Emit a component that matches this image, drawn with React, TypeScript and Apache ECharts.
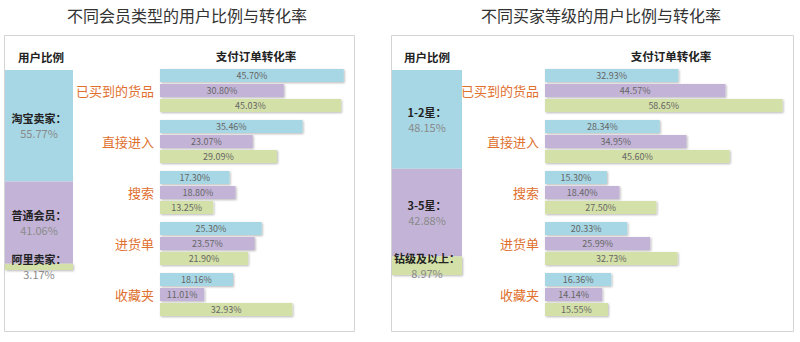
import React, { useEffect, useRef } from "react";
import * as echarts from "echarts";

const categories = ["已买到的货品", "直接进入", "搜索", "进货单", "收藏夹"];

const leftTitle = "不同会员类型的用户比例与转化率";
const leftGroups = ["淘宝卖家", "普通会员", "阿里卖家"];
const leftShares = [55.77, 41.06, 3.17];
const leftRateA = [45.7, 35.46, 17.3, 25.3, 18.16];
const leftRateB = [30.8, 23.07, 18.8, 23.57, 11.01];
const leftRateC = [45.03, 29.09, 13.25, 21.9, 32.93];

const rightTitle = "不同买家等级的用户比例与转化率";
const rightGroups = ["1-2星", "3-5星", "钻级及以上"];
const rightShares = [48.15, 42.88, 8.97];
const rightRateA = [32.93, 28.34, 15.3, 20.33, 16.36];
const rightRateB = [44.57, 34.95, 18.4, 25.99, 14.14];
const rightRateC = [58.65, 45.6, 27.5, 32.73, 15.55];

const shareHeader = "用户比例";
const rateHeader = "支付订单转化率";

const COLORS = ["#a7d7e4", "#c3b4d7", "#d3e0a7"];
const FONT = "'Noto Sans CJK SC', 'Noto Sans', sans-serif";

function buildOption() {
  const fmt = (p: any) => Number(p.value).toFixed(2) + "%";
  const barShadow = {
    shadowColor: "rgba(0,0,0,0.28)",
    shadowBlur: 2,
    shadowOffsetX: 1,
    shadowOffsetY: 1,
  };

  const grids = [
    { left: 5, top: 70, width: 68, height: 200 },
    { left: 160, top: 65, width: 201, height: 255 },
    { left: 392, top: 70, width: 70, height: 205 },
    { left: 545, top: 65, width: 243, height: 255 },
  ];

  const xAxis: any[] = [
    { gridIndex: 0, type: "category", data: ["share"], show: false },
    { gridIndex: 1, type: "value", min: 0, max: 50, show: false },
    { gridIndex: 2, type: "category", data: ["share"], show: false },
    { gridIndex: 3, type: "value", min: 0, max: 60, show: false },
  ];

  const catAxis = (gi: number, pad: number[]) => ({
    gridIndex: gi,
    type: "category",
    data: categories,
    inverse: true,
    axisLine: { show: false },
    axisTick: { show: false },
    splitLine: { show: false },
    axisLabel: {
      color: "#e0702e",
      fontSize: 13,
      fontFamily: FONT,
      margin: 6,
      padding: pad,
    },
  });

  const yAxis: any[] = [
    { gridIndex: 0, type: "value", min: 0, max: 100, inverse: true, show: false },
    catAxis(1, [0, 0, 18, 0]),
    { gridIndex: 2, type: "value", min: 0, max: 100, inverse: true, show: false },
    catAxis(3, [0, 0, 0, 0]),
  ];

  const series: any[] = [];

  const shareSeries = (names: string[], shares: number[], gi: number, stack: string) => {
    names.forEach((name, i) => {
      series.push({
        type: "bar",
        name: name,
        xAxisIndex: gi,
        yAxisIndex: gi,
        stack: stack,
        barWidth: "100%",
        data: [shares[i]],
        itemStyle: { color: COLORS[i], ...(i === names.length - 1 ? barShadow : {}) },
        label: {
          show: true,
          position: "inside",
          formatter: () => `{n|${name}：}\n{v|${shares[i].toFixed(2)}%}`,
          rich: {
            n: { fontSize: 11, fontWeight: "bold", color: "#222", fontFamily: FONT, lineHeight: 15 },
            v: { fontSize: 11, color: "#8a8a8a", fontFamily: FONT, lineHeight: 15 },
          },
        },
      });
    });
  };

  const rateSeries = (rates: number[][], gi: number) => {
    rates.forEach((r, i) => {
      series.push({
        type: "bar",
        xAxisIndex: gi,
        yAxisIndex: gi,
        barWidth: 13,
        barGap: "15%",
        data: r,
        itemStyle: { color: COLORS[i], ...barShadow },
        label: {
          show: true,
          position: "inside",
          formatter: fmt,
          fontSize: 9,
          color: "#666",
          fontFamily: FONT,
        },
      });
    });
  };

  shareSeries(leftGroups, leftShares, 0, "L");
  rateSeries([leftRateA, leftRateB, leftRateC], 1);
  shareSeries(rightGroups, rightShares, 2, "R");
  rateSeries([rightRateA, rightRateB, rightRateC], 3);

  const titleStyle = { fontSize: 16, fontWeight: "normal", color: "#333", fontFamily: FONT };
  const headStyle = { fontSize: 11.5, fontWeight: "bold", color: "#222", fontFamily: FONT };

  const title: any[] = [
    { text: leftTitle, left: 187, top: 7, textAlign: "center", textStyle: titleStyle },
    { text: rightTitle, left: 601, top: 7, textAlign: "center", textStyle: titleStyle },
    { text: shareHeader, left: 41, top: 51, textAlign: "center", textStyle: headStyle },
    { text: rateHeader, left: 256, top: 50, textAlign: "center", textStyle: headStyle },
    { text: shareHeader, left: 427, top: 51, textAlign: "center", textStyle: headStyle },
    { text: rateHeader, left: 671, top: 50, textAlign: "center", textStyle: headStyle },
  ].map((t) => ({ ...t, padding: 0 }));

  const graphic: any[] = [
    {
      type: "rect",
      z: -10,
      shape: { x: 4.5, y: 35.5, width: 350, height: 296 },
      style: { fill: "#fff", stroke: "#d4d4d4", lineWidth: 1 },
    },
    {
      type: "rect",
      z: -10,
      shape: { x: 391.5, y: 35.5, width: 402, height: 296 },
      style: { fill: "#fff", stroke: "#d4d4d4", lineWidth: 1 },
    },
  ];

  return {
    animation: false,
    backgroundColor: "#fff",
    title,
    graphic,
    grid: grids,
    xAxis,
    yAxis,
    series,
  };
}

export default function App() {
  const ref = useRef<HTMLDivElement>(null);
  useEffect(() => {
    if (!ref.current) return;
    const chart = echarts.init(ref.current, null, { renderer: "svg" });
    chart.setOption(buildOption() as any);
    return () => chart.dispose();
  }, []);
  return (
    <div
      ref={ref}
      style={{ position: "fixed", left: 0, top: 0, width: 800, height: 342 }}
    />
  );
}
